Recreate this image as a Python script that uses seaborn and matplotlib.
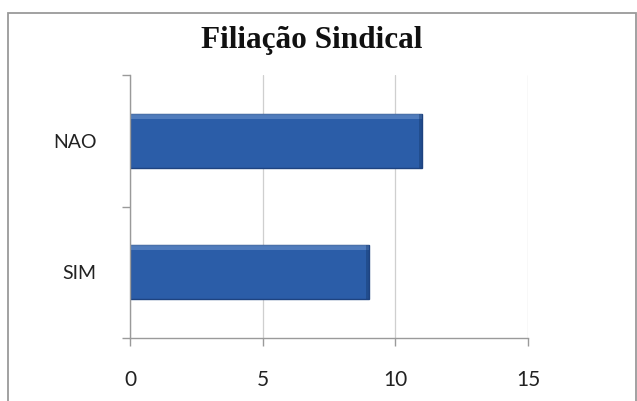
import matplotlib
matplotlib.use("Agg")
import matplotlib.pyplot as plt
from matplotlib.patches import Rectangle
import seaborn as sns
import pandas as pd

categories = ["NAO", "SIM"]
values = [11, 9]
x_ticks = [0, 5, 10, 15]
title = "Filiação Sindical"

df = pd.DataFrame({"resposta": categories, "total": values})

sns.set_theme(style="white")
plt.rcParams["font.family"] = ["Lato", "DejaVu Sans"]

fig = plt.figure(figsize=(6.37, 4.01), dpi=100)
fig.patch.set_facecolor("white")
ax = fig.add_axes([0.204, 0.157, 0.625, 0.656])

sns.barplot(data=df, x="total", y="resposta", orient="h", ax=ax,
            color="#2B5DA8", width=0.41, edgecolor="#1E4380", linewidth=1.0,
            saturation=1)

# soft bevel: lighter top strip, slightly darker right end
for p in ax.patches:
    x, y = p.get_x(), p.get_y()
    w, h = p.get_width(), p.get_height()
    ax.add_patch(Rectangle((x, y), w, h * 0.09, facecolor="#6F97CF",
                           edgecolor="none", alpha=0.55, zorder=p.get_zorder() + 0.1))
    ax.add_patch(Rectangle((x + w - 0.12, y), 0.12, h, facecolor="#173A70",
                           edgecolor="none", alpha=0.45, zorder=p.get_zorder() + 0.1))

ax.set_xlim(0, 15)
ax.set_ylim(1.5, -0.5)
ax.set_xticks(x_ticks)
ax.set_xticklabels([str(t) for t in x_ticks])
ax.set_yticks([0, 1])
ax.set_yticklabels(categories)
ax.set_yticks([-0.5, 0.5, 1.5], minor=True)
ax.set_xlabel("")
ax.set_ylabel("")

ax.xaxis.grid(True, color="#cfcfcf", linewidth=0.9)
ax.set_axisbelow(True)
for s in ["top", "right"]:
    ax.spines[s].set_visible(False)
for s in ["left", "bottom"]:
    ax.spines[s].set_color("#9a9a9a")
    ax.spines[s].set_linewidth(1.0)

ax.tick_params(axis="y", which="major", length=0, pad=24, labelsize=14, colors="#222222")
ax.tick_params(axis="y", which="minor", length=6, width=1.0, color="#9a9a9a", left=True)
ax.tick_params(axis="x", which="major", length=6, width=1.0, color="#9a9a9a",
               bottom=True, pad=17, labelsize=15, labelcolor="#222222")

fig.text(0.49, 0.90, title, ha="center", va="center", fontsize=22.5,
         fontweight="bold", family=["Liberation Serif", "DejaVu Serif"], color="#111111")

# outer chart frame
fig.add_artist(Rectangle((8 / 637, -0.05), 627.5 / 637, 1 - 13 / 401 + 0.05,
                         transform=fig.transFigure, fill=False,
                         edgecolor="#9a9a9a", linewidth=1.3))

fig.savefig("out.png", dpi=100, facecolor="white")
